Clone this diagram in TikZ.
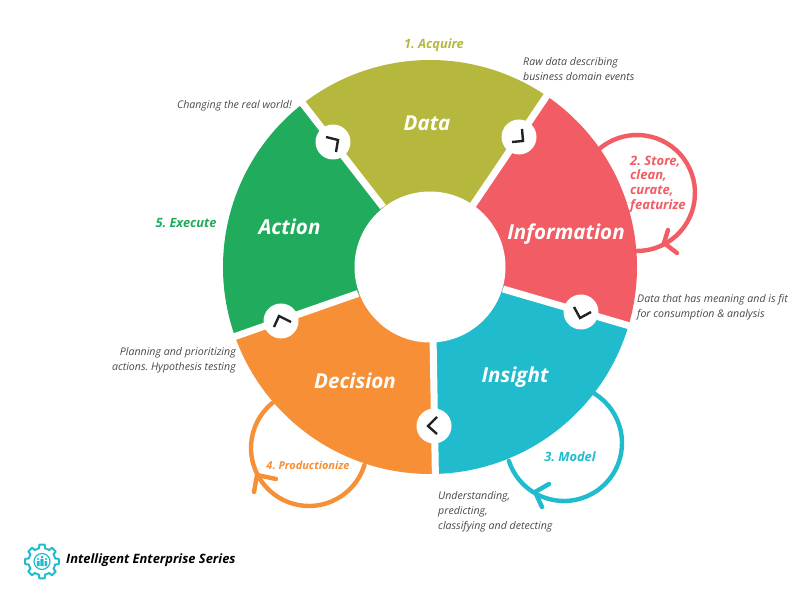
\documentclass[tikz,border=0pt]{standalone}
\usepackage{fontspec}
\setmainfont{Open Sans}
\definecolor{cdata}{HTML}{B6B73D}
\definecolor{cinfo}{HTML}{F25C64}
\definecolor{cins}{HTML}{20BCCD}
\definecolor{cdec}{HTML}{F78F37}
\definecolor{cact}{HTML}{21AB5C}
\definecolor{cnote}{HTML}{4A4A4A}
\definecolor{cchev}{HTML}{222222}
\tikzset{
  sector/.style={fill=#1,draw=none},
  gapline/.style={draw=white,line width=7pt},
  stage/.style={font=\fontsize{20.6}{25}\selectfont\bfseries\itshape,text=white,inner sep=0pt},
  cyc/.style={font=\fontsize{12.8}{14.7}\selectfont\bfseries\itshape,text=#1,inner sep=0pt},
  note/.style={font=\fontsize{10.6}{15}\selectfont\itshape,text=cnote,inner sep=0pt},
  hub/.style={circle,fill=white,minimum size=35pt,inner sep=0pt},
  chev/.style={draw=cchev,line width=2.4pt},
  loopline/.style={draw=#1,line width=4.4pt,line cap=round}
}
\newcommand{\sect}[3]{\fill[sector=#3] (430,267) -- ++(#1:207pt) arc (#1:#2:207pt) -- cycle;}
\frenchspacing
\begin{document}
\frenchspacing
\begin{tikzpicture}[x=1pt,y=-1pt]
\useasboundingbox (0,0) rectangle (800,601);
\fill[white] (0,0) rectangle (800,601);
% loops behind the wheel
\draw[loopline=cinfo] (637,193) ++(132:58pt) arc (132:-91:58pt);
\draw[loopline=cinfo] (668,230) -- (664,243) -- (677,253);
\draw[loopline=cins] (564,443) ++(63:58pt) arc (63:-162:58pt);
\draw[loopline=cins] (549,484) -- (535,492) -- (542,507);
\draw[loopline=cdec] (309,448) ++(125:58pt) arc (125:343:58pt);
\draw[loopline=cdec] (276,479) -- (257,475) -- (254,492);
% wheel
\sect{55.5}{128}{cdata}
\sect{-16.7}{55.5}{cinfo}
\sect{-89}{-16.7}{cins}
\sect{200}{271}{cdec}
\sect{128}{200}{cact}
\draw[gapline] (473,205) -- (552,88);
\draw[gapline] (383,207) -- (296,95);
\draw[gapline] (358,293.5) -- (222,341);
\draw[gapline] (503,289) -- (642,329.5);
\draw[gapline] (433,335) -- (435.5,482);
\fill[white] (430,267) circle[radius=75.5pt];
% hubs and chevrons
\node[hub] (h1) at (519,137) {};
\node[hub] (h2) at (333,142) {};
\node[hub] (h3) at (281,321) {};
\node[hub] (h4) at (434,426) {};
\node[hub] (h5) at (581,312) {};
\draw[chev] (522,129) -- (523,141) -- (512,142);
\draw[chev] (326,137) -- (338,140) -- (336,152);
\draw[chev] (274,327) -- (279,316) -- (291,322);
\draw[chev] (437,417) -- (428,426) -- (437,434);
\draw[chev] (574,307) -- (580,318) -- (591,312);
% stage names
\node[stage] (tdata) at (427,123) {Data};
\node[stage] (tinfo) at (566,234.5) {Information};
\node[stage] (tins) at (515,377) {Insight};
\node[stage] (tdec) at (355,381) {Decision};
\node[stage] (tact) at (289.5,227) {Action};
% cycle labels
\node[cyc=cdata] (c1) at (434,45.5) {1. Acquire};
\node[cyc=cinfo,align=left,anchor=north west,font=\fontsize{13}{14.7}\selectfont\bfseries\itshape] (c2) at (630,155.5) {2. Store,\\clean,\\curate,\\featurize};
\node[cyc=cins] (c3) at (570,456.5) {3. Model};
\node[cyc=cdec,font=\fontsize{11}{14}\selectfont\bfseries\itshape] (c4) at (308,465.5) {4. Productionize};
\node[cyc=cact] (c5) at (186,223) {5. Execute};
% notes
\node[note,align=left,anchor=west] (n1) at (523,69) {Raw data describing\\business domain events};
\node[note,anchor=east] (n2) at (292,106) {Changing the real world!};
\node[note,align=left,anchor=west] (n3) at (637,307) {Data that has meaning and is fit\\for consumption \& analysis};
\node[note,align=right,anchor=east] (n4) at (236,360) {Planning and prioritizing\\actions. Hypothesis testing};
\node[note,align=left,anchor=west] (n5) at (438,511.5) {Understanding,\\predicting,\\classifying and detecting};
% logo
\foreach \a in {0,45,...,315}{
  \draw[cins,line width=2pt,line join=round,shift={(42,561.5)}]
    (\a-22.5:13.5pt) arc (\a-22.5:\a-13:13.5pt) -- (\a-9:17pt) -- (\a+9:17pt) -- (\a+13:13.5pt) arc (\a+13:\a+22.5:13.5pt);
}
\draw[cins,line width=1.2pt] (42,561.5) circle[radius=8pt];
\fill[cins] (42,557) circle[radius=1.5pt] (38,559) circle[radius=1.2pt] (46,559) circle[radius=1.2pt];
\fill[cins] (40.3,559) rectangle (43.7,566) (36.8,561) rectangle (39.5,566) (44.5,561) rectangle (47.2,566);
\node[font=\fontsize{12.9}{14}\selectfont\bfseries\itshape,text=black,inner sep=0pt,anchor=west] (series) at (66,560) {Intelligent Enterprise Series};
\end{tikzpicture}
\end{document}
